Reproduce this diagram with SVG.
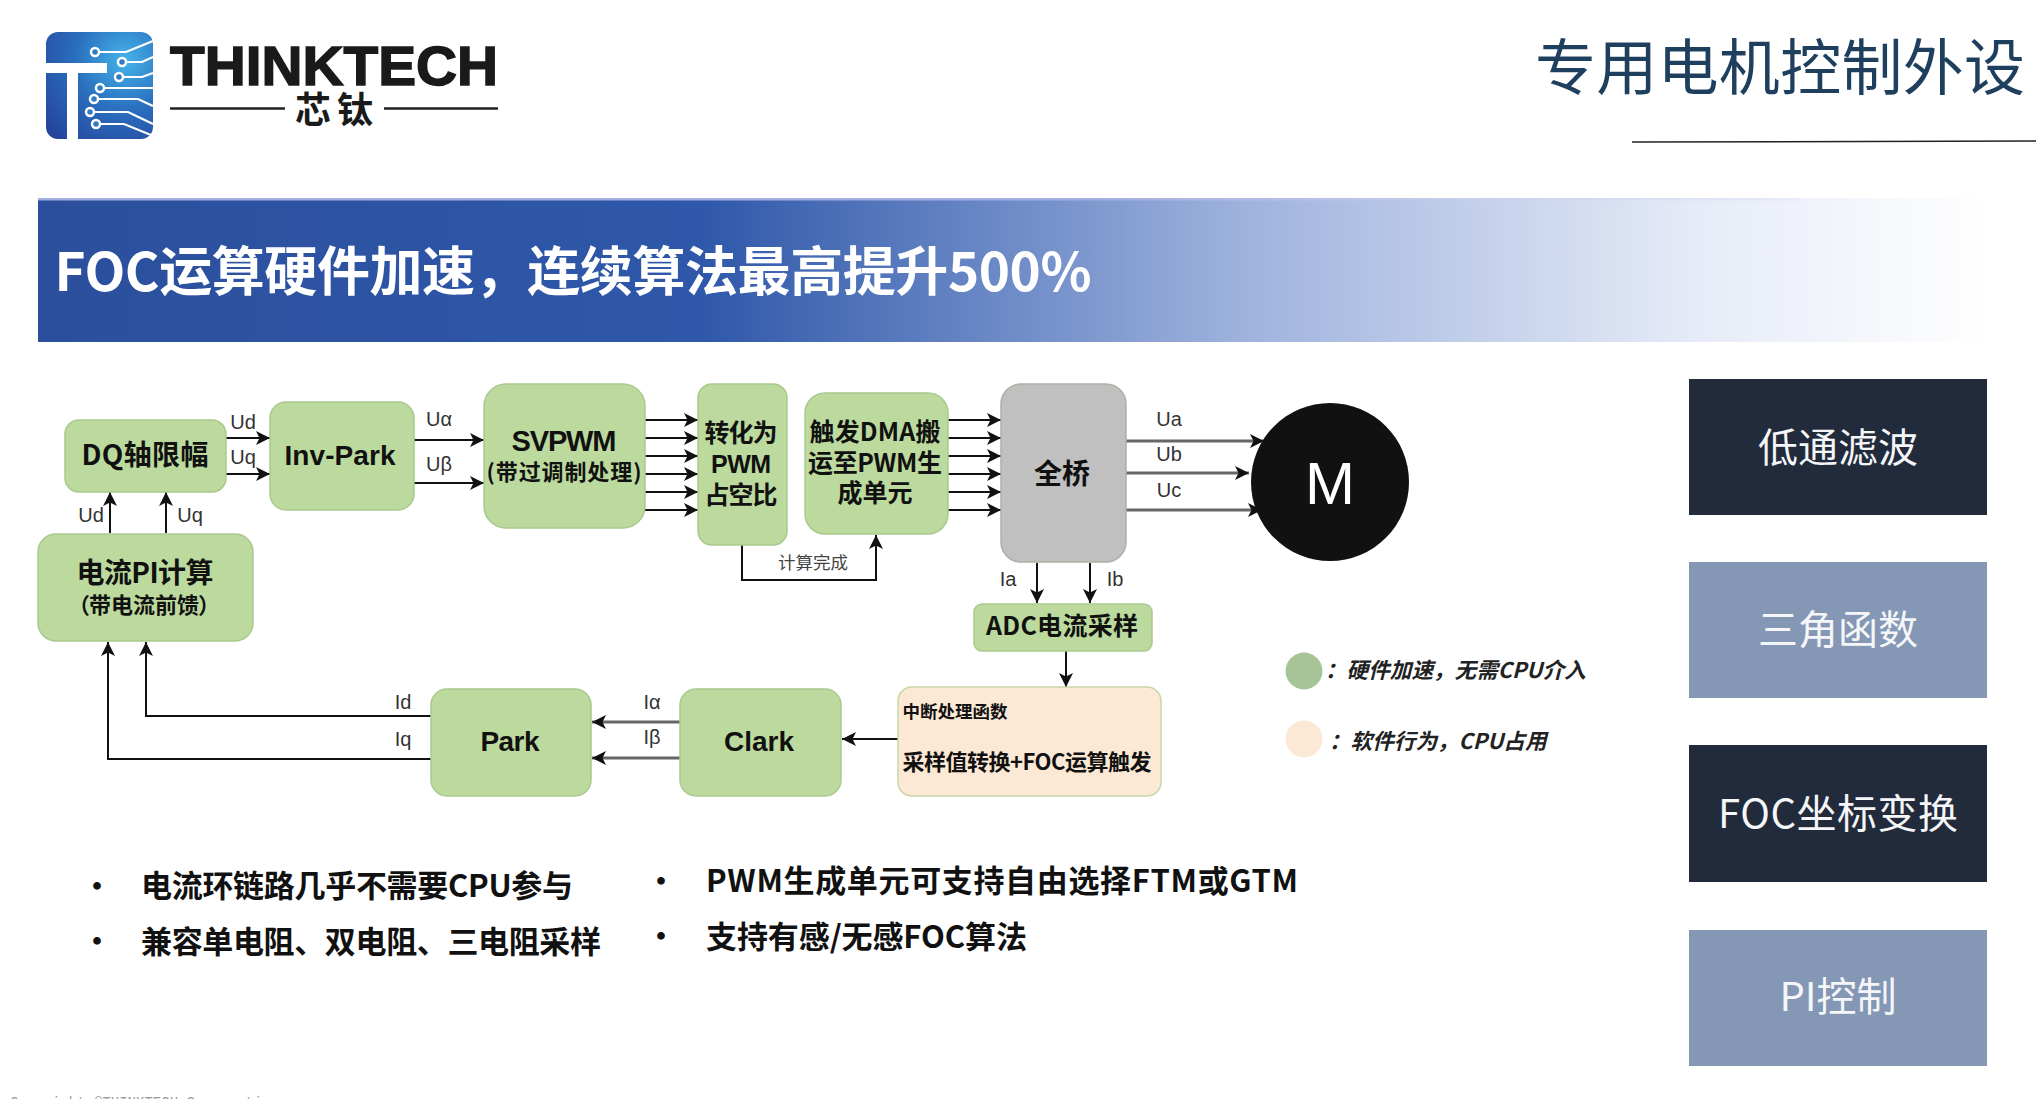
<svg xmlns="http://www.w3.org/2000/svg" width="2036" height="1099" viewBox="0 0 2036 1099">
<style>
text{font-family:"Noto Sans CJK SC","Liberation Sans",sans-serif;fill:#111;text-anchor:middle;dominant-baseline:central}
.n{fill:#bcda9e;stroke:#a9c98e;stroke-width:1.5}
.b{font-weight:700}
.lat{font-family:"Liberation Sans","Noto Sans CJK SC",sans-serif;font-weight:700}
.l{font-family:"Liberation Sans",sans-serif;font-size:20px;fill:#333}
.c{fill:none;stroke:#111;stroke-width:2;marker-end:url(#a)}
.g{fill:none;stroke:#666;stroke-width:3;marker-end:url(#a)}
.side{font-size:40px;fill:#f4f6f8}
.bul{font-size:31px;font-weight:700;text-anchor:start}
.leg{font-size:21.600px;font-weight:700;font-style:italic;text-anchor:start;fill:#222}
.cir{fill:none;stroke:#fff;stroke-width:2.2}
.dot{fill:#2f7cc6;stroke:#fff;stroke-width:2.5}
</style>
<defs>
<marker id="a" markerUnits="userSpaceOnUse" markerWidth="15" markerHeight="16" refX="14" refY="7" orient="auto" overflow="visible"><path d="M0,0 L14,7 L0,14 L3.5,7 z" fill="#111"/></marker>
<linearGradient id="bar" gradientUnits="userSpaceOnUse" x1="38" y1="0" x2="1990" y2="0"><stop offset="0" stop-color="#2b4f9c"/><stop offset=".34" stop-color="#2f58aa"/><stop offset=".62" stop-color="#9fb3de"/><stop offset=".85" stop-color="#e6ebf7"/><stop offset="1" stop-color="#fff"/></linearGradient>
<linearGradient id="top" gradientUnits="userSpaceOnUse" x1="38" y1="0" x2="1800" y2="0"><stop offset="0" stop-color="#a3ade0"/><stop offset=".6" stop-color="#a3ade0"/><stop offset="1" stop-color="#e8ebf8"/></linearGradient>
<radialGradient id="lg" gradientUnits="userSpaceOnUse" cx="125" cy="60" r="110"><stop offset="0" stop-color="#45b4ea"/><stop offset=".45" stop-color="#2a6fbe"/><stop offset="1" stop-color="#253f98"/></radialGradient>
</defs>
<rect width="2036" height="1099" fill="#fff"/>

<g id="logo">
<rect x="46" y="32" width="107" height="107" rx="12" fill="url(#lg)"/>
<path d="M46,63H107V73H78V139H67V73H46z" fill="#fff"/>
<path class="cir" d="M95,52H126L153,41M122,62H142L153,57M119,77H142L153,73M100,88H153M94,99H138L153,106M90,112H128L153,124M96,124H124L151,135"/>
<g class="dot"><circle cx="95" cy="52" r="4"/><circle cx="122" cy="62" r="4"/><circle cx="119" cy="77" r="4"/><circle cx="100" cy="88" r="4"/><circle cx="94" cy="99" r="4"/><circle cx="90" cy="112" r="4"/><circle cx="96" cy="124" r="4"/></g>
<text x="334" y="65" class="lat" font-size="56" textLength="328" lengthAdjust="spacingAndGlyphs" style="fill:#1a1a1a;stroke:#1a1a1a;stroke-width:1.500">THINKTECH</text>
<text x="334" y="107" class="b" font-size="36" textLength="78" style="fill:#1a1a1a">芯钛</text>
<path d="M170,108.500H285M384,108.500H498" stroke="#222" stroke-width="2.500"/>
</g>

<g id="header">
<text x="1780" y="63" font-size="61" textLength="490" style="fill:#1f3f5f">专用电机控制外设</text>
<path d="M1632,142L2036,141" stroke="#222" stroke-width="1.500"/>
</g>

<g id="banner">
<rect x="38" y="198" width="1952" height="144" fill="url(#bar)"/>
<rect x="38" y="198" width="1762" height="2.500" fill="url(#top)"/>
<text x="573" y="268" class="b" font-size="53" textLength="1037" style="fill:#fff">FOC运算硬件加速，连续算法最高提升500%</text>
</g>

<g id="connectors">
<path class="c" d="M226,438H270"/><path class="c" d="M226,474H270"/>
<path class="c" d="M413,440H484"/><path class="c" d="M413,483H484"/>
<path class="c" d="M110,533V492"/><path class="c" d="M166,533V492"/>
<path class="c" d="M644,420H698"/><path class="c" d="M644,438H698"/><path class="c" d="M644,456H698"/><path class="c" d="M644,474H698"/><path class="c" d="M644,492H698"/><path class="c" d="M644,510H698"/>
<path class="c" d="M947,420H1001"/><path class="c" d="M947,438H1001"/><path class="c" d="M947,456H1001"/><path class="c" d="M947,474H1001"/><path class="c" d="M947,492H1001"/><path class="c" d="M947,510H1001"/>
<path class="g" d="M1126,441H1264"/><path class="g" d="M1126,473H1249"/><path class="g" d="M1126,510H1262"/>
<path class="c" d="M742,545V580H876V535"/>
<path class="c" d="M1037,563V603"/><path class="c" d="M1090,563V603"/>
<path class="c" d="M1066,651V687"/>
<path class="c" d="M898,739H842"/>
<path class="g" d="M680,722H592"/><path class="g" d="M680,758H592"/>
<path class="c" d="M431,716H146V642"/><path class="c" d="M431,759H108V642"/>
<g>
<text class="l" x="243" y="422">Ud</text><text class="l" x="243" y="457">Uq</text>
<text class="l" x="439" y="419">Uα</text><text class="l" x="439" y="464">Uβ</text>
<text class="l" x="91" y="515">Ud</text><text class="l" x="190" y="515">Uq</text>
<text class="l" x="1169" y="419">Ua</text><text class="l" x="1169" y="454">Ub</text><text class="l" x="1169" y="490">Uc</text>
<text class="l" x="1008" y="579">Ia</text><text class="l" x="1115" y="579">Ib</text>
<text class="l" x="652" y="702">Iα</text><text class="l" x="652" y="737">Iβ</text>
<text class="l" x="403" y="702">Id</text><text class="l" x="403" y="739">Iq</text>
<text x="813" y="561" font-size="17.500" style="fill:#444">计算完成</text>
</g>
</g>

<g id="dq"><rect class="n" x="65" y="420" width="161" height="72" rx="14"/><text class="b" x="145" y="453" font-size="28" textLength="127">DQ轴限幅</text></g>
<g id="invpark"><rect class="n" x="270" y="402" width="144" height="108" rx="16"/><text class="lat" x="340" y="455" font-size="28" textLength="111">Inv-Park</text></g>
<g id="svpwm"><rect class="n" x="484" y="384" width="161" height="144" rx="22"/><text class="lat" x="564" y="441" font-size="29" textLength="105">SVPWM</text><text class="b" x="564" y="470" font-size="22" textLength="155">(带过调制处理)</text></g>
<g id="pi"><rect class="n" x="38" y="534" width="215" height="107" rx="18"/><text class="b" x="145" y="571" font-size="28" textLength="137">电流PI计算</text><text class="b" x="144" y="603" font-size="22" style="font-feature-settings:'palt'">（带电流前馈）</text></g>
<g id="duty"><rect class="n" x="698" y="384" width="89" height="161" rx="14"/><text class="b" x="741" y="431" font-size="25" textLength="73">转化为</text><text class="lat" x="741" y="464" font-size="25" textLength="60">PWM</text><text class="b" x="741" y="493" font-size="25" textLength="73">占空比</text></g>
<g id="dma"><rect class="n" x="805" y="393" width="143" height="141" rx="20"/><text class="b" x="875" y="430" font-size="25" textLength="131">触发DMA搬</text><text class="b" x="875" y="461" font-size="25" textLength="134">运至PWM生</text><text class="b" x="875" y="491" font-size="25" textLength="75">成单元</text></g>
<g id="bridge"><rect x="1001" y="384" width="125" height="178" rx="20" fill="#c0c0c0" stroke="#a9b3a4" stroke-width="1.500"/><text class="b" x="1062" y="472" font-size="28">全桥</text></g>
<g id="motor"><circle cx="1330" cy="482" r="79" fill="#111"/><text x="1330" y="483" font-size="60" style="font-family:'Liberation Sans',sans-serif;fill:#fff">M</text></g>
<g id="adc"><rect class="n" x="974" y="604" width="178" height="47" rx="8"/><text class="b" x="1062" y="624" font-size="25" textLength="152">ADC电流采样</text></g>
<g id="isr"><rect x="898" y="687" width="263" height="109" rx="14" fill="#fce9d5" stroke="#c9d6a8" stroke-width="1.500"/><text class="b" x="955" y="710" font-size="17.500" textLength="105">中断处理函数</text><text class="b" x="1027" y="760" font-size="22" textLength="249">采样值转换+FOC运算触发</text></g>
<g id="clark"><rect class="n" x="680" y="689" width="161" height="107" rx="16"/><text class="lat" x="759" y="741" font-size="28" textLength="70">Clark</text></g>
<g id="park"><rect class="n" x="431" y="689" width="160" height="107" rx="16"/><text class="lat" x="510" y="741" font-size="28" textLength="59">Park</text></g>

<g id="legend">
<circle cx="1304" cy="671" r="18.500" fill="#a6c498"/>
<text class="leg" x="1325" y="668">：硬件加速，无需CPU介入</text>
<circle cx="1304" cy="739" r="18.500" fill="#fbe8d5"/>
<text class="leg" x="1329" y="739">：软件行为，CPU占用</text>
</g>

<g id="bullets">
<text class="b" x="97" y="884" font-size="30">•</text><text class="bul" x="141" y="883" textLength="432">电流环链路几乎不需要CPU参与</text>
<text class="b" x="97" y="939" font-size="30">•</text><text class="bul" x="141" y="939" textLength="460">兼容单电阻、双电阻、三电阻采样</text>
<text class="b" x="661" y="879" font-size="30">•</text><text class="bul" x="706" y="878" textLength="592">PWM生成单元可支持自由选择FTM或GTM</text>
<text class="b" x="661" y="934" font-size="30">•</text><text class="bul" x="706" y="934" textLength="321">支持有感/无感FOC算法</text>
</g>

<g id="s1"><rect x="1689" y="379" width="298" height="136" fill="#222b3b"/><text class="side" x="1838" y="445">低通滤波</text></g>
<g id="s2"><rect x="1689" y="562" width="298" height="136" fill="#8497b5"/><text class="side" x="1838" y="627">三角函数</text></g>
<g id="s3"><rect x="1689" y="745" width="298" height="137" fill="#222b3b"/><text class="side" x="1838" y="811" textLength="240">FOC坐标变换</text></g>
<g id="s4"><rect x="1689" y="930" width="298" height="136" fill="#8497b5"/><text class="side" x="1838" y="994">PI控制</text></g>

<text x="10" y="1103" font-size="14" style="font-family:'Liberation Mono',monospace;text-anchor:start;fill:#999">Copyright @THINKTECH Corporation</text>
</svg>
